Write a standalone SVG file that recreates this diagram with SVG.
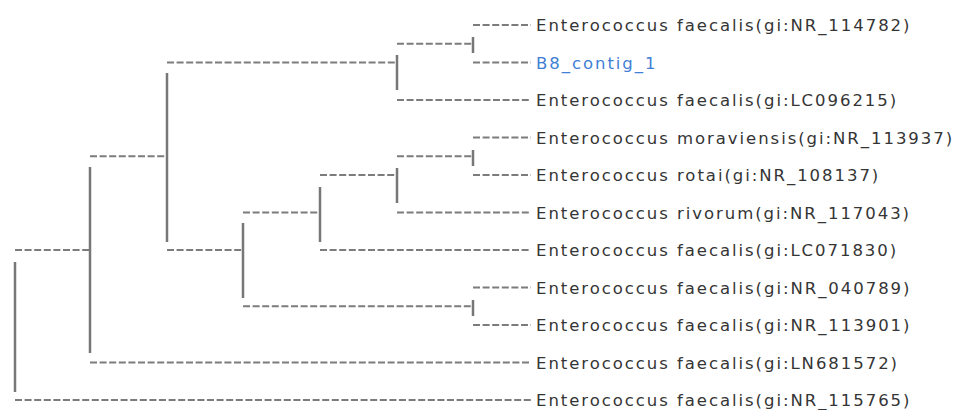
<svg xmlns="http://www.w3.org/2000/svg" width="969" height="410" viewBox="0 0 969 410">
<style>
.h{stroke:#7c7c7c;stroke-width:2;stroke-dasharray:7 2.6;fill:none}
.v{stroke:#777777;stroke-width:2.5;fill:none}
.lbl{font-family:"DejaVu Sans","Liberation Sans",sans-serif;font-size:16.5px;letter-spacing:1.95px;fill:#353535}
.q{fill:#3f7fd6}
</style>
<rect width="969" height="410" fill="#ffffff"/>
<g id="connectors">
<line class="h" x1="397" y1="43.75" x2="473" y2="43.75"/>
<line class="h" x1="473" y1="25" x2="531" y2="25"/>
<line class="h" x1="473" y1="62.5" x2="531" y2="62.5"/>
<line class="h" x1="167" y1="62.5" x2="397" y2="62.5"/>
<line class="h" x1="397" y1="100" x2="531" y2="100"/>
<line class="h" x1="473" y1="137.5" x2="531" y2="137.5"/>
<line class="h" x1="473" y1="175" x2="531" y2="175"/>
<line class="h" x1="397" y1="156.25" x2="473" y2="156.25"/>
<line class="h" x1="320" y1="175" x2="397" y2="175"/>
<line class="h" x1="397" y1="212.5" x2="531" y2="212.5"/>
<line class="h" x1="243" y1="212.5" x2="320" y2="212.5"/>
<line class="h" x1="320" y1="250" x2="531" y2="250"/>
<line class="h" x1="167" y1="250" x2="243" y2="250"/>
<line class="h" x1="90" y1="156.25" x2="167" y2="156.25"/>
<line class="h" x1="243" y1="306.25" x2="473" y2="306.25"/>
<line class="h" x1="473" y1="287.5" x2="531" y2="287.5"/>
<line class="h" x1="473" y1="325" x2="531" y2="325"/>
<line class="h" x1="15" y1="250" x2="90" y2="250"/>
<line class="h" x1="90" y1="362.5" x2="531" y2="362.5"/>
<line class="h" x1="15" y1="400" x2="531" y2="400"/>
<line class="v" x1="15" y1="262" x2="15" y2="392"/>
<line class="v" x1="90" y1="167" x2="90" y2="353"/>
<line class="v" x1="167" y1="73" x2="167" y2="242"/>
<line class="v" x1="397" y1="55" x2="397" y2="90"/>
<line class="v" x1="473" y1="37" x2="473" y2="53"/>
<line class="v" x1="243" y1="223" x2="243" y2="298"/>
<line class="v" x1="320" y1="187" x2="320" y2="242"/>
<line class="v" x1="397" y1="168" x2="397" y2="203"/>
<line class="v" x1="473" y1="150" x2="473" y2="166"/>
<line class="v" x1="473" y1="300" x2="473" y2="316"/>
</g>
<g id="leaf-NR_114782"><text class="lbl" x="536" y="31">Enterococcus faecalis(gi:NR_114782)</text></g>
<g id="leaf-B8_contig_1"><text class="lbl q" x="536" y="68.5">B8_contig_1</text></g>
<g id="leaf-LC096215"><text class="lbl" x="536" y="106">Enterococcus faecalis(gi:LC096215)</text></g>
<g id="leaf-NR_113937"><text class="lbl" x="536" y="143.5">Enterococcus moraviensis(gi:NR_113937)</text></g>
<g id="leaf-NR_108137"><text class="lbl" x="536" y="181">Enterococcus rotai(gi:NR_108137)</text></g>
<g id="leaf-NR_117043"><text class="lbl" x="536" y="218.5">Enterococcus rivorum(gi:NR_117043)</text></g>
<g id="leaf-LC071830"><text class="lbl" x="536" y="256">Enterococcus faecalis(gi:LC071830)</text></g>
<g id="leaf-NR_040789"><text class="lbl" x="536" y="293.5">Enterococcus faecalis(gi:NR_040789)</text></g>
<g id="leaf-NR_113901"><text class="lbl" x="536" y="331">Enterococcus faecalis(gi:NR_113901)</text></g>
<g id="leaf-LN681572"><text class="lbl" x="536" y="368.5">Enterococcus faecalis(gi:LN681572)</text></g>
<g id="leaf-NR_115765"><text class="lbl" x="536" y="406">Enterococcus faecalis(gi:NR_115765)</text></g>
</svg>
